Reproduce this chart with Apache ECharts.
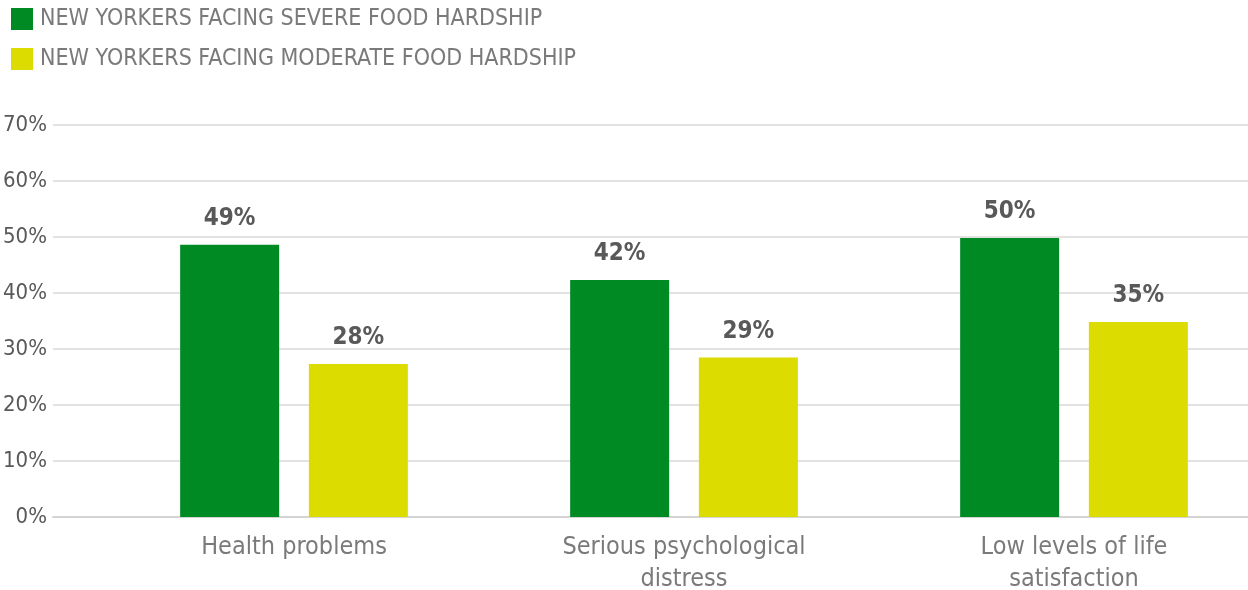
<!DOCTYPE html>
<html><head><meta charset="utf-8">
<script src="https://cdn.jsdelivr.net/npm/echarts@6/dist/echarts.min.js"></script>
<style>html,body{margin:0;padding:0;background:#fff}#c{width:1248px;height:590px}</style>
</head><body><div id="c"></div>
<script>
const categories = ["Health problems", "Serious psychological\ndistress", "Low levels of life\nsatisfaction"];
const severeName = "NEW YORKERS FACING SEVERE FOOD HARDSHIP";
const moderateName = "NEW YORKERS FACING MODERATE FOOD HARDSHIP";
const severeValues = [48.6, 42.3, 49.8];
const moderateValues = [27.3, 28.5, 34.8];
const severeLabels = ["49%", "42%", "50%"];
const moderateLabels = ["28%", "29%", "35%"];
const yTicks = [0, 10, 20, 30, 40, 50, 60, 70];

const FF = "'Liberation Sans Narrow', 'DejaVu Sans Condensed', 'Arial Narrow', sans-serif";
const chart = echarts.init(document.getElementById('c'), null, {renderer: 'canvas'});
const labelStyle = (arr) => ({
  show: true, position: 'top', distance: 14,
  formatter: p => arr[p.dataIndex],
  fontFamily: FF, fontSize: 24, fontWeight: 'bold', color: '#595959'
});
chart.setOption({
  animation: false,
  legend: {
    orient: 'vertical', left: 11, top: 7, padding: 0, itemWidth: 22, itemHeight: 22, itemGap: 16,
    icon: 'rect',
    textStyle: {fontFamily: FF, fontSize: 23, lineHeight: 22, color: '#7a7a7a', padding: [2, 0, 0, 2]},
    data: [severeName, moderateName]
  },
  grid: [
    {left: 53, right: 0, top: 125, height: 392, outerBoundsMode: 'none', containLabel: false},
    {left: 99, width: 1170, top: 125, height: 392, outerBoundsMode: 'none', containLabel: false}
  ],
  xAxis: [
    {gridIndex: 0, type: 'value', min: 0, max: 1, axisLabel: {show: false}, axisTick: {show: false},
     splitLine: {show: false}, axisLine: {show: true, lineStyle: {color: '#d4d4d4', width: 2}}},
    {gridIndex: 1, type: 'category', data: categories, axisLine: {show: false}, axisTick: {show: false},
     axisLabel: {margin: 14, fontFamily: FF, fontSize: 25, lineHeight: 32, color: '#7a7a7a'}}
  ],
  yAxis: [
    {gridIndex: 0, type: 'value', min: yTicks[0], max: yTicks[yTicks.length - 1], interval: 10,
     axisLine: {show: false}, axisTick: {show: false},
     axisLabel: {formatter: '{value}%', margin: 6, fontFamily: FF, fontSize: 22, color: '#595959', padding: [5, 0, 0, 0]},
     splitLine: {lineStyle: {color: '#d9d9d9', width: 1.5}}},
    {gridIndex: 1, type: 'value', min: 0, max: 70, show: false, splitLine: {show: false}}
  ],
  series: [
    {name: severeName, type: 'bar', xAxisIndex: 1, yAxisIndex: 1, data: severeValues,
     barWidth: 99, barGap: '30%', itemStyle: {color: '#008a24', borderWidth: 0}, label: labelStyle(severeLabels)},
    {name: moderateName, type: 'bar', xAxisIndex: 1, yAxisIndex: 1, data: moderateValues,
     barWidth: 99, barGap: '30%', itemStyle: {color: '#dcdc00', borderWidth: 0}, label: labelStyle(moderateLabels)}
  ]
});
</script></body></html>
